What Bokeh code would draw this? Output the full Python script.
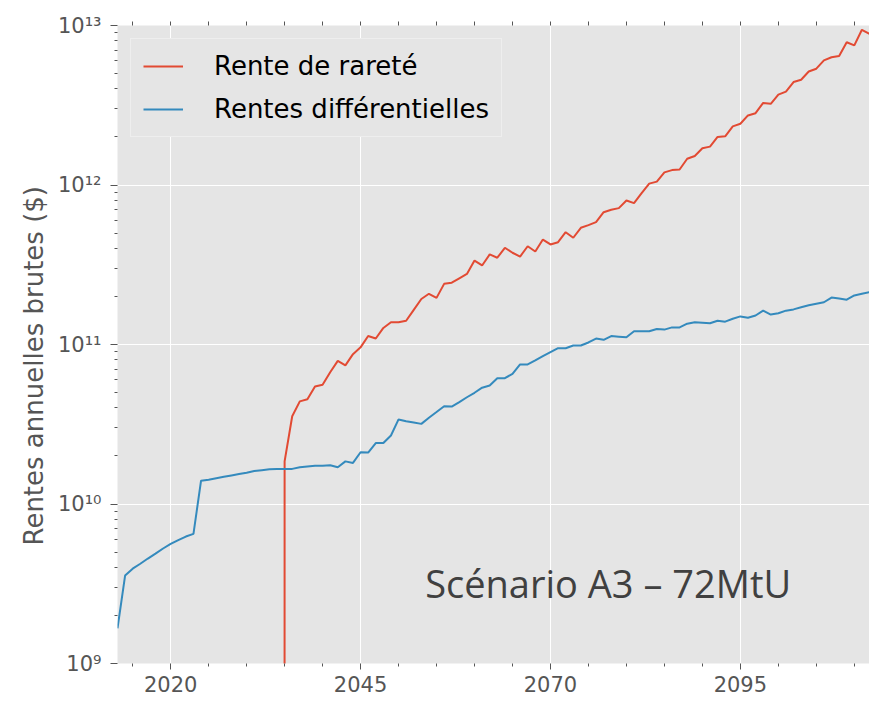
from bokeh.plotting import figure
from bokeh.models import (FixedTicker, LinearAxis, Legend, LegendItem, Label, Title,
                          ColumnDataSource, Range1d)
from bokeh.embed import file_html
from bokeh.resources import INLINE

# ---------------- data ----------------
blue_years = list(range(2013, 2113))
blue_values = [
    1.66e9, 3.56e9, 3.93e9, 4.22e9, 4.55e9, 4.88e9, 5.26e9, 5.62e9, 5.94e9, 6.25e9,   # 2013-2022
    6.50e9, 1.40e10, 1.42e10, 1.45e10, 1.48e10, 1.51e10, 1.54e10, 1.57e10, 1.61e10, 1.63e10,  # 2023-2032
    1.65e10, 1.66e10, 1.66e10, 1.66e10, 1.70e10, 1.72e10, 1.74e10, 1.74e10, 1.75e10, 1.70e10,  # 2033-2042
    1.85e10, 1.81e10, 2.11e10, 2.10e10, 2.41e10, 2.41e10, 2.69e10, 3.39e10, 3.30e10, 3.24e10,  # 2043-2052
    3.18e10, 3.47e10, 3.77e10, 4.10e10, 4.08e10, 4.35e10, 4.67e10, 4.98e10, 5.36e10, 5.53e10,  # 2053-2062
    6.15e10, 6.15e10, 6.55e10, 7.50e10, 7.50e10, 7.94e10, 8.45e10, 8.95e10, 9.48e10, 9.48e10,  # 2063-2072
    9.86e10, 9.86e10, 1.03e11, 1.09e11, 1.07e11, 1.13e11, 1.12e11, 1.11e11, 1.21e11, 1.21e11,  # 2073-2082
    1.21e11, 1.25e11, 1.24e11, 1.28e11, 1.28e11, 1.35e11, 1.38e11, 1.37e11, 1.36e11, 1.41e11,  # 2083-2092
    1.39e11, 1.45e11, 1.50e11, 1.47e11, 1.52e11, 1.63e11, 1.54e11, 1.57e11, 1.63e11, 1.66e11,  # 2093-2102
    1.71e11, 1.76e11, 1.80e11, 1.84e11, 1.97e11, 1.94e11, 1.91e11, 2.03e11, 2.08e11, 2.13e11,  # 2103-2112
]

red_years = list(range(2034, 2113))
red_values = [
    0.0,                                                                                 # 2034
    1.85e10, 3.55e10, 4.40e10, 4.54e10, 5.46e10, 5.60e10, 6.70e10, 7.90e10, 7.40e10, 8.70e10,  # 2035-2044
    9.60e10, 1.13e11, 1.09e11, 1.27e11, 1.38e11, 1.38e11, 1.41e11, 1.65e11, 1.93e11, 2.08e11,  # 2045-2054
    1.96e11, 2.40e11, 2.44e11, 2.60e11, 2.77e11, 3.36e11, 3.13e11, 3.67e11, 3.50e11, 4.04e11,  # 2055-2064
    3.76e11, 3.56e11, 4.13e11, 3.83e11, 4.55e11, 4.24e11, 4.38e11, 5.06e11, 4.67e11, 5.39e11,  # 2065-2074
    5.60e11, 5.85e11, 6.75e11, 7.00e11, 7.16e11, 8.00e11, 7.70e11, 8.89e11, 1.02e12, 1.05e12,  # 2075-2084
    1.20e12, 1.24e12, 1.25e12, 1.46e12, 1.52e12, 1.70e12, 1.74e12, 2.00e12, 2.02e12, 2.33e12,  # 2085-2094
    2.42e12, 2.73e12, 2.82e12, 3.27e12, 3.23e12, 3.69e12, 3.85e12, 4.42e12, 4.57e12, 5.15e12,  # 2095-2104
    5.36e12, 6.04e12, 6.32e12, 6.43e12, 7.85e12, 7.50e12, 9.40e12, 8.87e12,                    # 2105-2112
]

series_names = ["Rente de rareté", "Rentes différentielles"]
annotation_text = "Scénario A3 – 72MtU"
y_label = "Rentes annuelles brutes ($)"

x_tick_values = [2020, 2045, 2070, 2095]
x_tick_labels = ["2020", "2045", "2070", "2095"]
y_tick_values = [1e9, 1e10, 1e11, 1e12, 1e13]
y_tick_labels = ["10⁹", "10¹⁰", "10¹¹", "10¹²", "10¹³"]

assert len(blue_years) == len(blue_values)
assert len(red_years) == len(red_values)

# log axis: non-positive values clipped to a tiny number (as a log plot does)
red_plot = [v if v > 0 else 1e-300 for v in red_values]

RED = "#E24A33"
BLUE = "#348ABD"
BG = "#E5E5E5"
GRAY = "#555555"
FONT = "DejaVu Sans"

p = figure(width=869, height=701, x_range=Range1d(2013, 2112),
           y_range=Range1d(1e9, 1e13), y_axis_type="log",
           output_backend="svg", toolbar_location=None,
           min_border_left=117, min_border_right=0,
           min_border_top=25, min_border_bottom=38)

p.background_fill_color = BG
p.border_fill_color = "white"
p.outline_line_color = None

src_red = ColumnDataSource(dict(x=red_years, y=red_plot))
src_blue = ColumnDataSource(dict(x=blue_years, y=blue_values))
r_red = p.line("x", "y", source=src_red, line_color=RED, line_width=2)
r_blue = p.line("x", "y", source=src_blue, line_color=BLUE, line_width=2)

# ---- axes ----
minor_x = [y for y in range(2015, 2113, 5) if y not in x_tick_values]
all_x_ticks = list(range(2015, 2113, 5))
minor_y = [k * 10 ** e for e in range(9, 13) for k in range(2, 10)]

xa = p.xaxis[0]
xa.ticker = FixedTicker(ticks=x_tick_values, minor_ticks=minor_x)
xa.major_label_overrides = {v: l for v, l in zip(x_tick_values, x_tick_labels)}
ya = p.yaxis[0]
ya.ticker = FixedTicker(ticks=y_tick_values, minor_ticks=minor_y)
ya.major_label_overrides = {v: l for v, l in zip(y_tick_values, y_tick_labels)}

for ax in (xa, ya):
    ax.axis_line_color = None
    ax.major_tick_in = 0
    ax.minor_tick_in = 0
    ax.major_tick_line_color = GRAY
    ax.minor_tick_line_color = GRAY
    ax.major_label_text_color = GRAY
    ax.major_label_text_font = FONT
    ax.major_label_text_font_size = "21px"

xa.major_tick_out = 6
xa.minor_tick_out = 3
xa.major_label_standoff = 6
ya.major_tick_out = 7
ya.minor_tick_out = 3
ya.major_label_standoff = 9

# y axis title, as a side title so it can sit a little below the axis centre
ytitle = Title(text=y_label, align="left", offset=118, standoff=12,
               text_font=FONT, text_font_size="26px", text_font_style="normal",
               text_color=GRAY)
p.add_layout(ytitle, "left")

# top ticks only (no labels)
top = LinearAxis(ticker=FixedTicker(ticks=[], minor_ticks=all_x_ticks))
top.axis_line_color = None
top.major_tick_line_color = None
top.minor_tick_in = 0
top.minor_tick_out = 4
top.minor_tick_line_color = GRAY
p.add_layout(top, "above")

# ---- grid ----
p.xgrid.ticker = FixedTicker(ticks=x_tick_values)
p.ygrid.ticker = FixedTicker(ticks=y_tick_values)
for g in (p.xgrid[0], p.ygrid[0]):
    g.grid_line_color = "white"
    g.grid_line_width = 1
    g.minor_grid_line_color = None

# ---- legend ----
legend = Legend(items=[LegendItem(label=series_names[0], renderers=[r_red]),
                       LegendItem(label=series_names[1], renderers=[r_blue])],
                location="top_left", margin=13, padding=12, spacing=13,
                glyph_width=40, glyph_height=30, label_standoff=31,
                label_text_font=FONT, label_text_font_size="26px",
                label_text_color="black",
                background_fill_color=BG, background_fill_alpha=1.0,
                border_line_color="#F7F7F7", border_line_width=1)
p.add_layout(legend, "center")

# ---- annotation ----
p.add_layout(Label(x=2053.5, y=3.2e9, text=annotation_text,
                   text_font="Open Sans", text_font_size="38px",
                   text_color="#404040", text_baseline="alphabetic"))

open("out.html", "w").write(file_html(p, INLINE))
